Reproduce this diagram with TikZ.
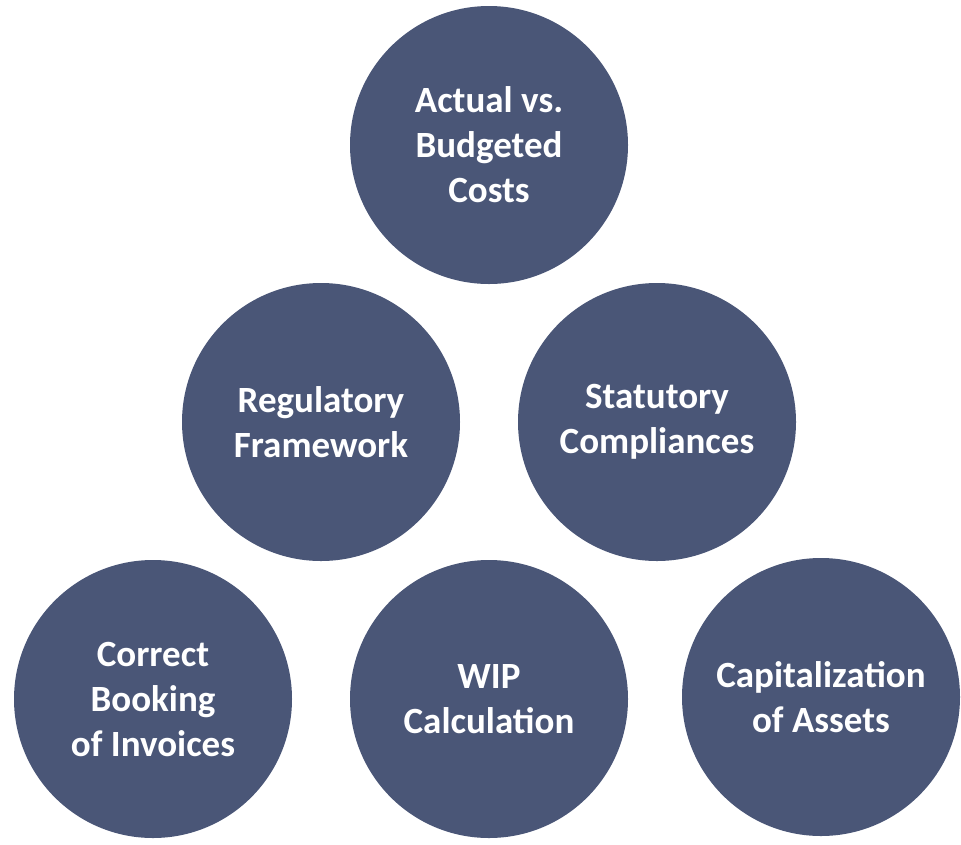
\documentclass[tikz,border=0pt]{standalone}
\usepackage{fontspec}
\setmainfont{Carlito}
\definecolor{slate}{RGB}{74,86,119}
\begin{document}
\begin{tikzpicture}[x=1pt,y=-1pt,
  bubble/.style={circle,fill=slate,draw=none,minimum size=278pt,inner sep=0pt,
    text=white,font=\fontsize{37}{45}\selectfont\bfseries,align=center}]
\useasboundingbox (0,0) rectangle (961,844);
\node[bubble] (top) at (489,145) {Actual vs.\\Budgeted\\Costs};
\node[bubble] (reg) at (321,422) {Regulatory\\Framework};
\node[bubble] (stat) at (657,422) {Statutory\\Compliances};
\node[bubble] (book) at (153,699) {Correct\\Booking\\of Invoices};
\node[bubble] (wip) at (489,699) {WIP\\Calculation};
\node[bubble] (cap) at (821,697) {Capitalization\\of Assets};
\end{tikzpicture}
\end{document}
